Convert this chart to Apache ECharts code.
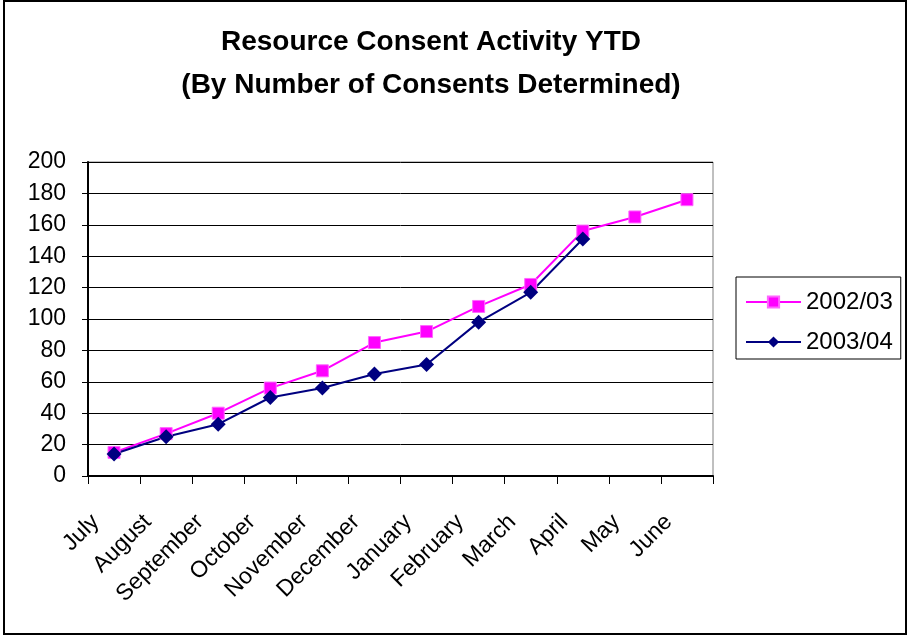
<!DOCTYPE html>
<html>
<head>
<meta charset="utf-8">
<script src="https://cdn.jsdelivr.net/npm/echarts@6/dist/echarts.min.js"></script>
<style>
html,body{margin:0;padding:0;background:#fff;}
#chart{width:908px;height:637px;}
</style>
</head>
<body>
<div id="chart"></div>
<script>
var titleText = 'Resource Consent Activity YTD\n(By Number of Consents Determined)';
var months = ['July','August','September','October','November','December','January','February','March','April','May','June'];
var seriesNames = ['2002/03','2003/04'];
var values2002 = [15, 27, 40, 56, 67, 85, 92, 108, 122, 156, 165, 176];
var values2003 = [14, 25, 33, 50, 56, 65, 71, 98, 117, 151, null, null];
var yMin = 0, yMax = 200, yStep = 20;

var chart = echarts.init(document.getElementById('chart'));
var font = 'Liberation Sans, Arial, sans-serif';
chart.setOption({
  backgroundColor: '#ffffff',
  animation: false,
  title: {
    text: titleText,
    left: 426,
    textAlign: 'center',
    top: 16,
    textStyle: {fontFamily: font, fontSize: 28, fontWeight: 'bold', color: '#000', lineHeight: 43}
  },
  graphic: [{
    type: 'rect',
    shape: {x: 4, y: 1, width: 902, height: 633},
    style: {fill: 'none', stroke: '#000', lineWidth: 2},
    silent: true
  }],
  legend: {
    orient: 'vertical',
    left: 736,
    top: 277,
    padding: [13, 8, 5, 9],
    itemGap: 16,
    itemWidth: 55,
    itemHeight: 14,
    borderColor: '#000',
    borderWidth: 1,
    textStyle: {fontFamily: font, fontSize: 24, color: '#000', lineHeight: 24},
    data: seriesNames
  },
  grid: {
    left: 88, top: 162, right: 195, bottom: 161,
    show: true, borderColor: '#808080', borderWidth: 1, backgroundColor: 'transparent',
    containLabel: false
  },
  xAxis: {
    type: 'category',
    data: months,
    boundaryGap: true,
    axisLine: {lineStyle: {color: '#000', width: 2}},
    axisTick: {show: true, length: 8, lineStyle: {color: '#000', width: 1}},
    axisLabel: {
      interval: 0, rotate: 45, margin: 24,
      padding: [0, 26, 0, 0],
      fontFamily: font, fontSize: 23, color: '#000'
    },
    splitLine: {show: false}
  },
  yAxis: {
    type: 'value',
    min: yMin, max: yMax, interval: yStep,
    axisLine: {show: true, lineStyle: {color: '#000', width: 2}},
    axisTick: {show: true, length: 6, lineStyle: {color: '#000', width: 1}},
    axisLabel: {margin: 22, fontFamily: font, fontSize: 23, color: '#000'},
    splitLine: {show: true, lineStyle: {color: '#000', width: 1}}
  },
  series: [{
    name: seriesNames[0],
    type: 'line',
    data: values2002,
    symbol: 'rect',
    symbolSize: 12,
    color: '#FF00FF',
    lineStyle: {color: '#FF00FF', width: 2},
    itemStyle: {color: '#FF00FF', borderColor: '#FF66FF', borderWidth: 1}
  }, {
    name: seriesNames[1],
    type: 'line',
    data: values2003,
    symbol: 'diamond',
    symbolSize: 15,
    color: '#000080',
    lineStyle: {color: '#000080', width: 2},
    itemStyle: {color: '#000080'}
  }]
});
</script>
</body>
</html>
